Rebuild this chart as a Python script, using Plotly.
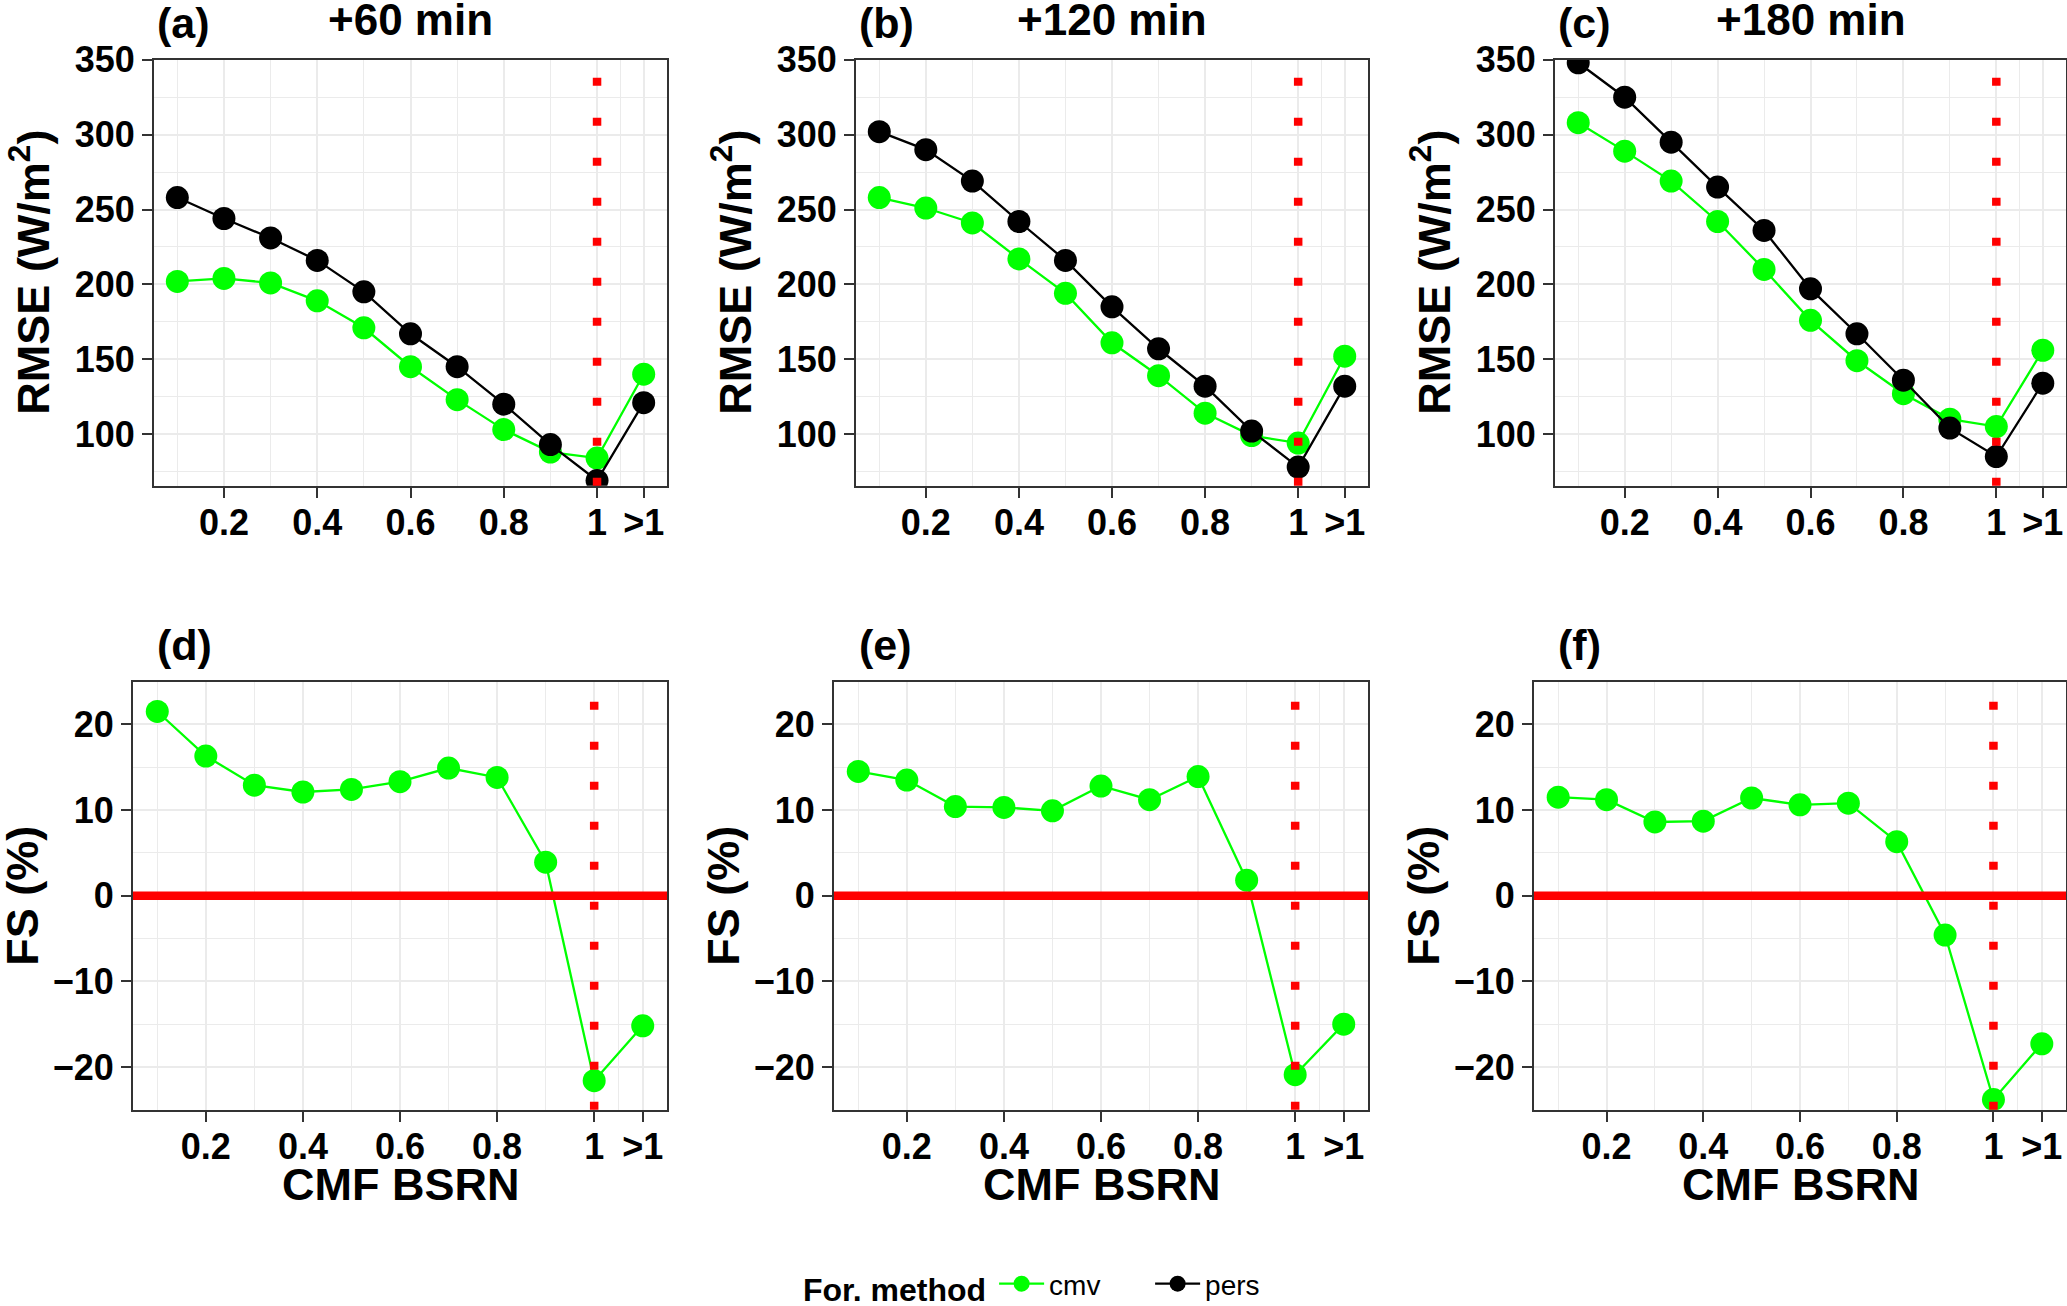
import plotly.graph_objects as go
from plotly.subplots import make_subplots

# CMF classes (">1" is drawn at 1.1)
cmf = [0.1, 0.2, 0.3, 0.4, 0.5, 0.6, 0.7, 0.8, 0.9, 1.0, 1.1]
cmf_ticks = [0.2, 0.4, 0.6, 0.8, 1.0, 1.1]
cmf_ticktext = ["0.2", "0.4", "0.6", "0.8", "1", ">1"]
cmf_minor = [0.1, 0.3, 0.5, 0.7, 0.9, 1.05]

horizons = ["+60 min", "+120 min", "+180 min"]
tags_top = ["(a)", "(b)", "(c)"]
tags_bottom = ["(d)", "(e)", "(f)"]

# RMSE (W/m2)
rmse_cmv_60 = [202, 204, 201, 189, 171, 145, 123, 103, 88, 84, 140]
rmse_pers_60 = [258, 244, 231, 216, 195, 167, 145, 120, 93, 69, 121]
rmse_cmv_120 = [258, 251, 241, 217, 194, 161, 139, 114, 99, 94, 152]
rmse_pers_120 = [302, 290, 269, 242, 216, 185, 157, 132, 102, 78, 132]
rmse_cmv_180 = [308, 289, 269, 242, 210, 176, 149, 127, 110, 105, 156]
rmse_pers_180 = [348, 325, 295, 265, 236, 197, 167, 136, 104, 85, 134]

# forecast skill (%)
fs_60 = [21.5, 16.3, 12.9, 12.1, 12.4, 13.3, 14.9, 13.8, 3.9, -21.6, -15.2]
fs_120 = [14.5, 13.5, 10.4, 10.3, 9.9, 12.8, 11.2, 13.9, 1.8, -20.9, -15.0]
fs_180 = [11.5, 11.2, 8.6, 8.7, 11.4, 10.6, 10.8, 6.3, -4.6, -23.8, -17.3]

rmse_ticks = [100, 150, 200, 250, 300, 350]
rmse_minor = [75, 125, 175, 225, 275, 325]
fs_ticks = [-20, -10, 0, 10, 20]
fs_minor = [-15, -5, 5, 15]

rmse_cmv = [rmse_cmv_60, rmse_cmv_120, rmse_cmv_180]
rmse_pers = [rmse_pers_60, rmse_pers_120, rmse_pers_180]
fs = [fs_60, fs_120, fs_180]

W, H = 2067, 1306
FONT = "Liberation Sans, Arial, sans-serif"
GREEN, BLACK, RED = "#00FF00", "#000000", "#FF0000"
GRID = "#EBEBEB"
BORDER = "#333333"


def fx(p):
    return p / W


def fy(p):
    return 1 - p / H


# panel edges in pixels
top_x = [(154, 667), (856, 1368), (1555, 2066)]
bot_x = [(133, 667), (834, 1368), (1534, 2066)]
top_y = (59.5, 485.75)
bot_y = (681.5, 1109.8)

fig = make_subplots(rows=2, cols=3)

for c in range(3):
    show = c == 0
    fig.add_trace(go.Scatter(
        x=cmf, y=rmse_cmv[c], mode="lines+markers", name="cmv",
        line=dict(color=GREEN, width=2.3), marker=dict(color=GREEN, size=23),
        legendgroup="cmv", showlegend=show), row=1, col=c + 1)
    fig.add_trace(go.Scatter(
        x=cmf, y=rmse_pers[c], mode="lines+markers", name="pers",
        line=dict(color=BLACK, width=2.3), marker=dict(color=BLACK, size=23),
        legendgroup="pers", showlegend=show), row=1, col=c + 1)
    fig.add_trace(go.Scatter(
        x=cmf, y=fs[c], mode="lines+markers", name="cmv",
        line=dict(color=GREEN, width=2.3), marker=dict(color=GREEN, size=23),
        legendgroup="cmv", showlegend=False), row=2, col=c + 1)

tickfont = dict(family=FONT, size=36, color="black", weight="bold")

for i in range(6):
    r, c = divmod(i, 3)
    sfx = "" if i == 0 else str(i + 1)
    xd = top_x[c] if r == 0 else bot_x[c]
    yd = top_y if r == 0 else bot_y
    fig.layout["xaxis" + sfx].update(
        domain=[fx(xd[0]), fx(xd[1])], range=[0.05, 1.15], automargin=False,
        tickmode="array", tickvals=cmf_ticks, ticktext=cmf_ticktext,
        ticks="outside", ticklen=10, tickwidth=2, tickcolor=BORDER,
        ticklabelstandoff=-6,
        tickfont=tickfont, showgrid=True, gridcolor=GRID, gridwidth=2.2,
        minor=dict(tickmode="array", tickvals=cmf_minor, showgrid=True,
                   gridcolor=GRID, gridwidth=1.3, ticks=""),
        showline=True, mirror=True, linecolor=BORDER, linewidth=2,
        zeroline=False)
    fig.layout["yaxis" + sfx].update(
        domain=[fy(yd[1]), fy(yd[0])], automargin=False,
        range=[65.5, 350.2] if r == 0 else [-25, 25],
        tickmode="array", tickvals=rmse_ticks if r == 0 else fs_ticks,
        ticks="outside", ticklen=10, tickwidth=2, tickcolor=BORDER,
        tickfont=tickfont, showgrid=True, gridcolor=GRID, gridwidth=2.2,
        minor=dict(tickmode="array", tickvals=rmse_minor if r == 0 else fs_minor,
                   showgrid=True, gridcolor=GRID, gridwidth=1.3, ticks=""),
        showline=True, mirror=True, linecolor=BORDER, linewidth=2,
        zeroline=False)

    xref = "x" + sfx
    yref = "y" + sfx
    # dotted red line at CMF = 1
    fig.add_shape(type="line", xref=xref, yref=yref + " domain",
                  x0=1.0, x1=1.0, y0=0, y1=1, layer="above",
                  line=dict(color=RED, width=8.5, dash="8px,32px"))
    if r == 1:
        fig.add_shape(type="line", xref=xref + " domain", yref=yref,
                      x0=0, x1=1, y0=0, y1=0, layer="above",
                      line=dict(color=RED, width=8.5))

ann = []
for c in range(3):
    cx = (top_x[c][0] + top_x[c][1]) / 2
    ann.append(dict(text="<b>%s</b>" % horizons[c], x=fx(cx), y=fy(19),
                    xanchor="center", yanchor="middle",
                    font=dict(family=FONT, size=44, color="black")))
    ann.append(dict(text="<b>%s</b>" % tags_top[c], x=fx(top_x[c][0] + 1), y=fy(23),
                    xanchor="left", yanchor="middle",
                    font=dict(family=FONT, size=43, color="black")))
    ann.append(dict(text="<b>%s</b>" % tags_bottom[c], x=fx(top_x[c][0] + 1), y=fy(645),
                    xanchor="left", yanchor="middle",
                    font=dict(family=FONT, size=43, color="black")))
    ann.append(dict(text="<b>RMSE (W/m<sup>2</sup>)</b>", x=fx(top_x[c][0] - 124),
                    y=fy((top_y[0] + top_y[1]) / 2), textangle=-90,
                    xanchor="center", yanchor="middle",
                    font=dict(family=FONT, size=45, color="black")))
    ann.append(dict(text="<b>FS (%)</b>", x=fx(bot_x[c][0] - 110),
                    y=fy((bot_y[0] + bot_y[1]) / 2), textangle=-90,
                    xanchor="center", yanchor="middle",
                    font=dict(family=FONT, size=45, color="black")))
    bx = (bot_x[c][0] + bot_x[c][1]) / 2
    ann.append(dict(text="<b>CMF BSRN</b>", x=fx(bx), y=fy(1184),
                    xanchor="center", yanchor="middle",
                    font=dict(family=FONT, size=45, color="black")))

for a in ann:
    a.update(xref="paper", yref="paper", showarrow=False)

fig.update_layout(
    width=W, height=H,
    margin=dict(l=0, r=0, t=0, b=0, autoexpand=False),
    paper_bgcolor="white", plot_bgcolor="white",
    font=dict(family=FONT, color="black"),
    annotations=ann,
    legend=dict(orientation="h", x=fx(1054), xanchor="center", y=fy(1285), yanchor="middle",
                title=dict(text="<b>For. method</b>", side="left",
                           font=dict(family=FONT, size=32, color="black")),
                font=dict(family=FONT, size=28, color="black"),
                itemwidth=45, entrywidth=96, entrywidthmode="pixels",
                bgcolor="rgba(0,0,0,0)"),
)

fig.write_html("out.html", config={"displayModeBar": False},
               post_script="document.body.style.margin='0px';")
